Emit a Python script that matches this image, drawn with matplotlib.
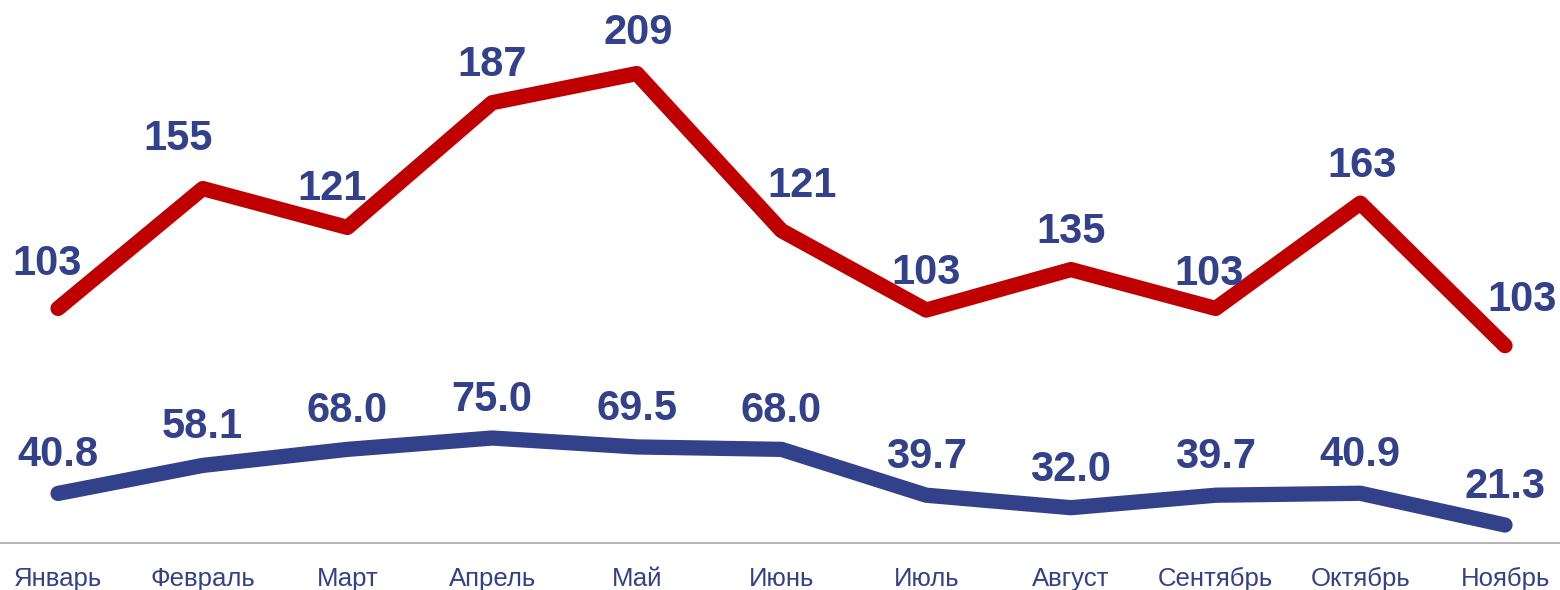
import matplotlib

matplotlib.use("Agg")
import matplotlib.pyplot as plt

plt.rcParams["font.family"] = ["Liberation Sans", "DejaVu Sans"]

months = ["Январь", "Февраль", "Март", "Апрель", "Май", "Июнь",
          "Июль", "Август", "Сентябрь", "Октябрь", "Ноябрь"]

# red series: drawn height (chart units) and its printed data labels
red_values = [155, 229, 205, 282, 300, 203, 154, 179, 155, 220, 132]
red_labels = ["103", "155", "121", "187", "209", "121",
              "103", "135", "103", "163", "103"]

# blue series: values are plotted and printed as is
blue_values = [40.8, 58.1, 68.0, 75.0, 69.5, 68.0, 39.7, 32.0, 39.7, 40.9, 21.3]

# hand nudges of the red labels (points, relative to the vertex)
red_label_dx = [-8, -18, -11, 0, 1, 15, 0, 0, -5, 1, 12]
red_label_dy = [24, 28, 20, 19, 21, 24, 19, 19, 17, 19, 25]

RED = "#C00000"
BLUE = "#33418A"
TEXT = "#33418A"

fig = plt.figure(figsize=(15.6, 5.9), dpi=100)
ax = fig.add_axes([0.0, 47 / 590, 1.0, 1 - 47 / 590])

x = list(range(len(months)))
ax.plot(x, red_values, color=RED, lw=11, solid_capstyle="round",
        solid_joinstyle="round", zorder=3)
ax.plot(x, blue_values, color=BLUE, lw=11, solid_capstyle="round",
        solid_joinstyle="round", zorder=3)

for xi, yi, txt, dx, dy in zip(x, red_values, red_labels, red_label_dx, red_label_dy):
    ax.annotate(txt, (xi, yi), xytext=(dx, dy), textcoords="offset points",
                ha="center", va="baseline", fontsize=30, fontweight="bold",
                color=TEXT, zorder=4)

for xi, yi in zip(x, blue_values):
    ax.annotate(f"{yi:.1f}", (xi, yi), xytext=(0, 19.5), textcoords="offset points",
                ha="center", va="baseline", fontsize=30, fontweight="bold",
                color=TEXT, zorder=4)

ax.set_xlim(-0.401, 10.38)
ax.set_ylim(10.2, 345.4)

ax.set_xticks(x)
ax.set_xticklabels(months, fontsize=18.5, color=TEXT)
ax.tick_params(axis="x", length=0, pad=17)
ax.set_yticks([])

for side in ("top", "left", "right"):
    ax.spines[side].set_visible(False)
ax.spines["bottom"].set_color("#A6A6A6")
ax.spines["bottom"].set_linewidth(1.2)

fig.savefig("out.png", dpi=100)
plt.close(fig)
